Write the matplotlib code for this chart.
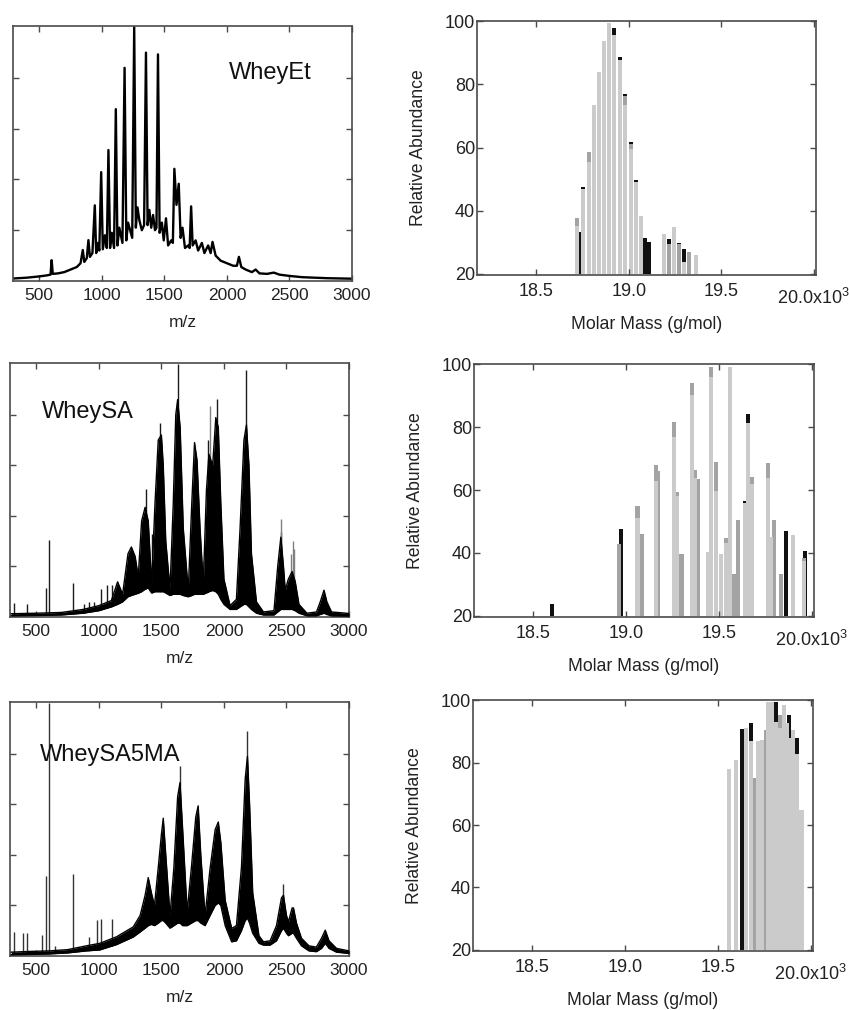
import matplotlib.pyplot as plt

plt.rcParams['font.family'] = ['Liberation Sans', 'DejaVu Sans']
plt.rcParams['mathtext.fontset'] = 'custom'
plt.rcParams['mathtext.rm'] = 'Liberation Sans'
plt.rcParams['mathtext.default'] = 'regular'

# ---------------- MALDI spectra (intensity, % of full scale) ----------------
# WheyEt: single trace
et_mz = [300, 400, 500, 560, 590, 599, 608, 650, 700, 750, 800, 830, 848, 860, 880,
         893, 905, 925, 944, 955, 970, 980, 995, 1008, 1025, 1040, 1053, 1066, 1080,
         1098, 1112, 1125, 1140, 1165, 1182, 1196, 1210, 1243, 1259, 1272, 1285, 1300,
         1320, 1338, 1353, 1366, 1380, 1395, 1410, 1425, 1437, 1449, 1462, 1480, 1495,
         1513, 1530, 1555, 1568, 1580, 1597, 1615, 1630, 1645, 1665, 1690, 1702, 1714,
         1726, 1750, 1770, 1800, 1820, 1850, 1870, 1885, 1910, 1950, 2000, 2050, 2080,
         2096, 2115, 2150, 2200, 2230, 2260, 2320, 2375, 2420, 2500, 2600, 2700, 2800,
         2900, 3000]
et_int = [1.0, 1.3, 1.8, 2.2, 2.5, 8.2, 2.8, 3.0, 3.5, 4.5, 5.5, 7.0, 12.2, 7.5, 9.0,
          16.1, 9.5, 11.0, 29.8, 11.0, 15.0, 12.0, 42.9, 12.5, 18.0, 13.0, 51.6, 13.0, 19.0,
          13.0, 67.7, 14.0, 21.0, 15.0, 84.0, 16.0, 23.0, 17.0, 100.0, 21.0, 29.0, 24.0,
          20.0, 22.0, 90.0, 22.0, 28.0, 21.0, 26.0, 20.0, 21.0, 89.3, 19.0, 23.0, 16.0,
          24.7, 14.0, 16.0, 15.0, 44.2, 30.0, 38.3, 17.0, 21.0, 13.0, 14.0, 13.0, 29.4,
          14.0, 16.0, 12.0, 15.0, 11.0, 14.0, 11.0, 15.4, 10.0, 8.0, 7.0, 6.0, 6.0,
          9.5, 5.5, 4.5, 3.5, 4.5, 3.0, 2.8, 3.3, 2.5, 2.0, 1.5, 1.3, 1.1,
          1.0, 0.9]

# WheySA: lower / upper envelope of the dense trace
sa_mz = [300, 500, 700, 875, 1000, 1100, 1150, 1190, 1233, 1260, 1290, 1315, 1342, 1370,
         1395, 1422, 1449, 1475, 1500, 1515, 1535, 1569, 1595, 1615, 1630, 1650, 1675,
         1715, 1743, 1765, 1785, 1809, 1835, 1860, 1880, 1910, 1935, 1955, 1975, 2000,
         2049, 2100, 2129, 2160, 2180, 2200, 2220, 2260, 2316, 2400, 2430, 2455, 2476,
         2490, 2515, 2545, 2570, 2600, 2663, 2740, 2770, 2800, 2823, 2860, 3000]
sa_lo = [0.5, 0.6, 0.8, 1.5, 2.5, 4.0, 5.0, 6.0, 8.0, 8.5, 9.0, 9.4, 10.0, 11.0,
         11.5, 9.5, 10.0, 10.0, 10.0, 10.0, 9.5, 8.5, 9.0, 9.0, 9.0, 9.0, 8.5,
         8.0, 8.5, 9.0, 9.0, 9.0, 9.0, 9.5, 10.0, 10.5, 10.0, 9.0, 7.0, 5.0,
         3.0, 3.0, 4.0, 5.0, 5.0, 4.0, 3.0, 1.5, 0.8, 0.8, 2.0, 3.0, 3.0,
         3.0, 3.0, 3.0, 2.5, 1.5, 0.5, 0.5, 1.0, 1.5, 1.0, 0.5, 0.4]
sa_hi = [1.3, 1.5, 1.8, 3.0, 4.5, 6.5, 13.9, 9.0, 25.0, 27.7, 24.0, 15.9, 38.0, 43.4,
         38.0, 13.0, 45.0, 70.0, 72.0, 60.0, 30.0, 11.0, 45.0, 80.0, 86.0, 75.0, 35.0,
         10.5, 45.0, 69.0, 62.0, 35.0, 13.0, 50.0, 64.4, 60.0, 78.9, 75.0, 45.0, 15.0,
         4.5, 7.0, 35.0, 70.0, 76.0, 60.0, 25.0, 6.0, 2.0, 2.5, 20.0, 31.6, 20.0,
         10.6, 15.0, 18.0, 14.0, 5.0, 1.5, 2.0, 6.0, 10.6, 6.0, 2.0, 1.4]
sa_spike_mz = [325, 426, 576, 602, 790, 880, 920, 960, 1014, 1067, 1102, 1378, 1427,
               1490, 1630, 1876, 1943, 2177, 2455]
sa_spike_h = [5.4, 5.0, 11.3, 30.6, 13.5, 5.0, 6.0, 6.0, 10.9, 12.6, 12.6, 50.7, 33.0,
              76.9, 100.0, 70.0, 86.1, 97.9, 33.6]
sa_gray_mz = [1835, 1885, 2458, 2540, 2552, 2563]
sa_gray_h = [22.0, 83.4, 38.8, 25.0, 30.0, 27.0]

# WheySA5MA: lower / upper envelope
ma_mz = [300, 450, 600, 750, 900, 1008, 1142, 1275, 1330, 1370, 1395, 1420, 1445, 1475,
         1500, 1515, 1535, 1569, 1600, 1630, 1649, 1670, 1706, 1740, 1775, 1794, 1815,
         1849, 1889, 1930, 1955, 1975, 2010, 2062, 2100, 2140, 2170, 2188, 2205, 2230,
         2280, 2316, 2369, 2420, 2460, 2476, 2500, 2516, 2545, 2556, 2580, 2620, 2680,
         2739, 2780, 2810, 2840, 2900, 3000]
ma_lo = [0.5, 0.6, 0.8, 1.2, 2.0, 2.4, 4.5, 7.5, 9.5, 11.0, 12.0, 12.5, 12.0, 13.0,
         14.0, 14.0, 13.0, 11.0, 12.0, 13.0, 13.0, 12.0, 12.0, 13.0, 14.0, 14.0, 13.0,
         12.0, 16.0, 20.0, 21.0, 20.0, 12.0, 5.6, 6.0, 10.0, 14.0, 15.0, 13.0, 9.0,
         5.0, 4.3, 4.3, 6.0, 10.0, 11.0, 9.0, 8.0, 9.0, 9.0, 7.0, 4.0, 2.0,
         1.7, 3.0, 5.0, 3.0, 1.5, 1.0]
ma_hi = [1.5, 1.8, 2.0, 2.5, 4.0, 5.0, 7.6, 11.5, 16.0, 24.0, 31.0, 25.0, 20.0, 35.0,
         48.0, 54.5, 40.0, 16.0, 35.0, 63.0, 68.6, 50.0, 17.5, 35.0, 55.0, 59.4, 40.0,
         16.0, 34.5, 50.0, 53.0, 45.0, 22.0, 10.9, 12.0, 35.0, 70.0, 79.0, 60.0, 25.0,
         8.0, 5.6, 6.0, 12.0, 23.0, 24.0, 16.0, 13.5, 19.0, 19.0, 13.0, 7.0, 4.0,
         3.5, 7.0, 10.2, 6.0, 3.0, 2.0]
ma_spike_mz = [325, 394, 426, 542, 576, 600, 648, 790, 923, 982, 1016, 1102, 1649,
               2188, 2476]
ma_spike_h = [9.6, 8.9, 8.9, 8.3, 31.5, 100.0, 3.9, 32.3, 7.6, 14.2, 14.8, 14.8, 75.2,
              89.0, 28.6]

# ---------------- molar mass distributions (x10^3 g/mol) ----------------
et_light_m = [18.721, 18.752, 18.784, 18.811, 18.838, 18.868, 18.895, 18.922, 18.951,
              18.980, 19.009, 19.036, 19.063, 19.188, 19.246, 19.300, 19.361]
et_light_a = [35.0, 46.8, 55.3, 73.6, 84.0, 93.9, 99.5, 95.7, 87.8,
              73.5, 59.5, 49.0, 38.4, 32.6, 34.7, 23.8, 25.9]
et_gray_m = [18.721, 18.784, 18.980, 19.009, 19.215, 19.271, 19.327]
et_gray_a = [37.7, 58.5, 76.4, 61.0, 29.4, 29.5, 26.8]
et_black_m = [18.728, 18.752, 18.922, 18.951, 18.980, 19.009, 19.036, 19.086, 19.111,
              19.215, 19.271, 19.300]
et_black_a = [33.3, 47.4, 97.8, 88.7, 76.9, 61.6, 49.8, 31.2, 30.1,
              31.0, 29.9, 27.8]

sa_light_m = [19.060, 19.158, 19.258, 19.272, 19.355, 19.371, 19.441, 19.457, 19.480,
              19.511, 19.538, 19.559, 19.637, 19.656, 19.677, 19.760, 19.777, 19.898, 19.955]
sa_light_a = [51.2, 62.8, 77.0, 58.0, 90.3, 63.7, 40.4, 96.1, 59.6,
              39.6, 43.3, 99.3, 56.0, 81.3, 62.0, 63.9, 45.0, 45.7, 37.5]
sa_gray_m = [18.959, 19.060, 19.082, 19.158, 19.170, 19.258, 19.272, 19.297, 19.355,
             19.371, 19.385, 19.457, 19.480, 19.538, 19.579, 19.600, 19.677, 19.760,
             19.797, 19.831, 19.955]
sa_gray_a = [42.7, 54.9, 45.9, 67.9, 66.0, 81.8, 59.5, 39.8, 94.0,
             66.5, 63.6, 99.3, 68.9, 44.8, 33.2, 50.4, 64.1, 68.6,
             50.4, 33.2, 38.5]
sa_black_m = [18.599, 18.973, 19.637, 19.656, 19.858, 19.959]
sa_black_a = [23.7, 47.5, 56.5, 84.1, 46.9, 40.6]

ma_light_m = [19.556, 19.595, 19.651, 19.676, 19.712, 19.735, 19.770, 19.789, 19.811,
              19.831, 19.852, 19.872, 19.883, 19.901, 19.926, 19.948]
ma_light_a = [78.0, 80.9, 91.2, 86.9, 86.9, 87.3, 99.5, 99.5, 93.0,
              91.2, 98.6, 92.6, 88.0, 90.4, 82.7, 64.9]
ma_gray_m = [19.697, 19.755, 19.777, 19.831]
ma_gray_a = [75.0, 90.4, 95.2, 95.2]
ma_black_m = [19.627, 19.676, 19.811, 19.883, 19.926]
ma_black_a = [90.8, 92.6, 99.5, 95.2, 88.0]

SPINE = '#4a4a4a'
TEXT = '#222222'

fig = plt.figure(figsize=(8.49, 10.10), dpi=100)


def style_axes(ax):
    for s in ax.spines.values():
        s.set_color(SPINE)
        s.set_linewidth(1.2)
    ax.tick_params(direction='in', top=True, right=True, length=4, width=1.0,
                   colors=SPINE, labelcolor=TEXT)


def spectrum_panel(rect, name, name_pos):
    ax = fig.add_axes(rect)
    ax.set_xlim(290, 3000)
    ax.set_ylim(0, 100.5)
    ax.set_xticks([500, 1000, 1500, 2000, 2500, 3000])
    ax.set_yticks([20, 40, 60, 80])
    style_axes(ax)
    ax.tick_params(labelleft=False, labelsize=12.5, pad=5)
    ax.set_xlabel('m/z', fontsize=12.5, color=TEXT, labelpad=9)
    ax.text(name_pos[0], name_pos[1], name, transform=ax.transAxes, fontsize=17,
            color='#111111', va='center', ha='left', zorder=5)
    return ax


def dense_trace(ax, mz, lo, hi):
    # white under the continuum hides the foot of the spikes
    ax.fill_between(mz, 0, lo, color='white', lw=0, zorder=2)
    ax.fill_between(mz, lo, hi, color='black', lw=0, zorder=3)
    ax.plot(mz, hi, color='black', lw=1.0, zorder=3)
    ax.plot(mz, lo, color='black', lw=1.0, zorder=3)


def mass_panel(rect, light, gray, black):
    ax = fig.add_axes(rect)
    # bars are drawn back to front: black, gray, light gray
    for (m, a), c in [(black, '#111111'), (gray, '#a3a3a3'), (light, '#cbcbcb')]:
        ax.bar(m, [v - 20 for v in a], bottom=20, width=0.022, color=c, linewidth=0)
    ax.set_xlim(18.18, 20.01)
    ax.set_ylim(19.6, 100.1)
    ax.set_xticks([18.5, 19.0, 19.5, 20.0])
    ax.set_xticklabels(['18.5', '19.0', '19.5', ''])
    ax.set_yticks([20, 40, 60, 80, 100])
    style_axes(ax)
    ax.tick_params(labelsize=13)
    ax.tick_params(axis='x', pad=6)
    ax.tick_params(axis='y', pad=1.5)
    ax.set_ylabel('Relative Abundance', fontsize=12.7, color=TEXT, labelpad=12.5)
    ax.set_xlabel('Molar Mass (g/mol)', fontsize=12.7, color=TEXT, labelpad=11)
    ax.annotate('20.0x10$^{3}$', xy=(1, 0), xycoords='axes fraction',
                xytext=(-3, -23), textcoords='offset pixels', ha='center',
                va='center', fontsize=13, color=TEXT)
    return ax


# left column: spectra
ax1 = spectrum_panel([0.0153, 0.7218, 0.3993, 0.2525], 'WheyEt', (0.637, 0.816))
ax1.plot(et_mz, et_int, color='black', lw=1.7)

ax2 = spectrum_panel([0.0118, 0.3891, 0.3993, 0.2515], 'WheySA', (0.094, 0.808))
ax2.vlines(sa_spike_mz, 0, sa_spike_h, color='#1a1a1a', lw=1.0, zorder=1)
ax2.vlines(sa_gray_mz, 0, sa_gray_h, color='#808080', lw=1.0, zorder=1)
dense_trace(ax2, sa_mz, sa_lo, sa_hi)

ax3 = spectrum_panel([0.0118, 0.0535, 0.3993, 0.2515], 'WheySA5MA', (0.088, 0.791))
ax3.vlines(ma_spike_mz, 0, ma_spike_h, color='#333333', lw=1.0, zorder=1)
dense_trace(ax3, ma_mz, ma_lo, ma_hi)

# right column: molar mass distributions
mass_panel([0.5618, 0.7277, 0.3993, 0.2515],
           (et_light_m, et_light_a), (et_gray_m, et_gray_a), (et_black_m, et_black_a))
mass_panel([0.5583, 0.3891, 0.4005, 0.2505],
           (sa_light_m, sa_light_a), (sa_gray_m, sa_gray_a), (sa_black_m, sa_black_a))
mass_panel([0.5571, 0.0584, 0.4005, 0.2485],
           (ma_light_m, ma_light_a), (ma_gray_m, ma_gray_a), (ma_black_m, ma_black_a))

fig.savefig('out.png', dpi=100)
